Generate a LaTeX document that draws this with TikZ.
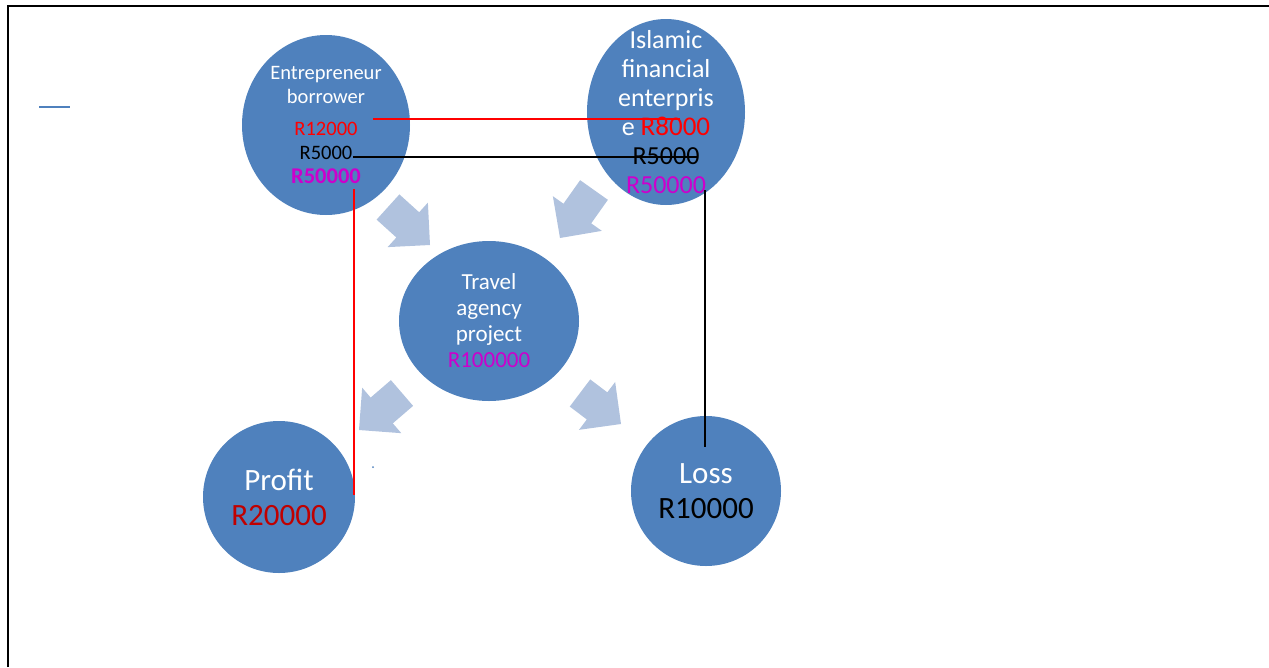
\documentclass[tikz,border=0pt]{standalone}
\usepackage{fontspec}
\setmainfont{Carlito}
\usetikzlibrary{shapes.geometric,calc}

\definecolor{bubbleblue}{HTML}{4F81BD}
\definecolor{arrowblue}{HTML}{B0C2DE}
\definecolor{loanred}{HTML}{FF0000}
\definecolor{capmag}{HTML}{CC00CC}
\definecolor{profitred}{HTML}{C00000}

\newcommand{\fsz}[2]{\fontsize{#1}{#2}\selectfont}

\tikzset{
  bubble/.style={ellipse, fill=bubbleblue, inner sep=0pt},
  bubtext/.style={text=white, align=center, inner sep=0pt},
  flowarrow/.style={fill=arrowblue},
}

\begin{document}
\begin{tikzpicture}[x=1pt,y=-1pt]
    \useasboundingbox (0,0) rectangle (1269,667);

    % frame
    \draw[line width=2pt] (8,667) -- (8,6) -- (1269,6);
    \draw[bubbleblue, line width=2pt] (39,107) -- (70,107);
    \fill[bubbleblue] (373,467) circle (1);

    % bubbles
    \node[bubble, minimum width=168, minimum height=180] (ent) at (326,125) {};
    \node[bubble, minimum width=158, minimum height=186] (isl) at (666,112) {};
    \node[bubble, minimum width=180, minimum height=160] (trv) at (489,321) {};
    \node[bubble, minimum width=152, minimum height=152] (pro) at (279,497) {};
    \node[bubble, minimum width=150, minimum height=150] (los) at (706,491) {};

    \node[bubtext, font=\fsz{20.5}{24}] (entT) at (ent) {Entrepreneur\\borrower\\[8pt]
        {\color{loanred}R12000}\\{\color{black}R5000}\\{\color{capmag}\bfseries\fsz{22.5}{24}R50000}};
    \node[bubtext, font=\fsz{26}{29}] (islT) at (isl) {Islamic\\financial\\enterpris\\
        e {\color{loanred}\fsz{27}{29}R8000}\\{\color{black}R5000}\\{\color{capmag}R50000}};
    \node[bubtext, font=\fsz{23}{26}] (trvT) at (trv) {Travel\\agency\\project\\
        {\color{capmag}R100000}};
    \node[bubtext, font=\fsz{31}{35}] (proT) at (pro) {Profit\\{\color{profitred}R20000}};
    \node[bubtext, font=\fsz{31}{35}] (losT) at (los) {Loss\\{\color{black}R10000}};

    % block arrows: tail t, tip h
    \coordinate (t1) at (388,207); \coordinate (h1) at (430,245);
    \coordinate (t2) at (594,190); \coordinate (h2) at (560,238);
    \coordinate (t3) at (402,393); \coordinate (h3) at (359,430);
    \coordinate (t4) at (580,393); \coordinate (h4) at (621,424);
    \foreach \i in {1,...,4}{
        \coordinate (b\i) at ($(h\i)!30pt!(t\i)$);
        \fill[flowarrow] ($(t\i)!17pt!90:(h\i)$) -- ($(b\i)!17pt!90:(h\i)$)
            -- ($(b\i)!30pt!90:(h\i)$) -- (h\i) -- ($(b\i)!30pt!-90:(h\i)$)
            -- ($(b\i)!17pt!-90:(h\i)$) -- ($(t\i)!17pt!-90:(h\i)$) -- cycle;
    }

    % share lines
    \coordinate (redA) at (373,119);
    \coordinate (redB) at (680,119);
    \coordinate (blkA) at (353,157);
    \coordinate (blkB) at (698,157);
    \coordinate (redC) at (354,189);
    \coordinate (redD) at (354,495);
    \coordinate (blkC) at (705,190);
    \coordinate (blkD) at (705,447);
    \draw[loanred, line width=1.5pt] (redA) -- (redB);
    \draw[line width=1.5pt] (blkA) -- (blkB);
    \draw[loanred, line width=1.5pt] (redC) -- (redD);
    \draw[line width=1.5pt] (blkC) -- (blkD);
\end{tikzpicture}
\end{document}
